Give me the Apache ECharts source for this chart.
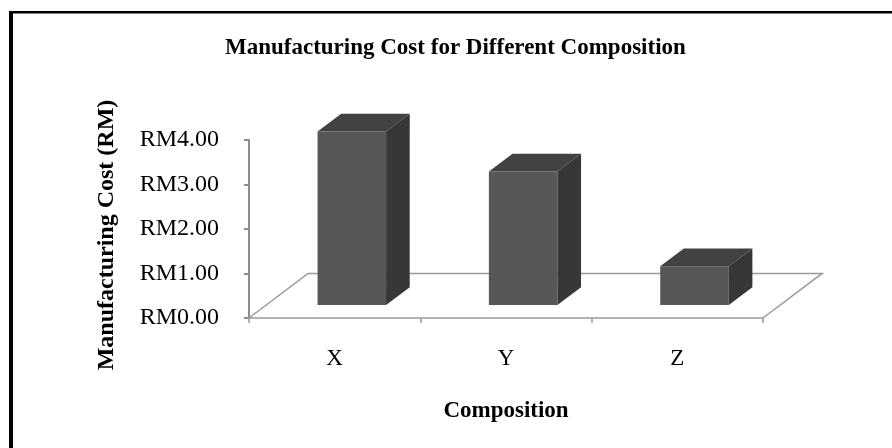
<!DOCTYPE html>
<html>
<head>
<meta charset="utf-8">
<style>
  html, body { margin: 0; padding: 0; background: #fff; }
  #chart { width: 892px; height: 448px; }
</style>
<script src="https://cdn.jsdelivr.net/npm/echarts@6/dist/echarts.min.js"></script>
</head>
<body>
<div id="chart"></div>
<script>
// chart data
var categories = ['X', 'Y', 'Z']
var costs = [3.9, 3.0, 0.87]
var yTickValues = [0, 1, 2, 3, 4]

// 3d look, as fractions of one category band
var DEPTH_X = 0.345
var DEPTH_Y = 0.26
var BAR_W = 0.4
var BAR_FRONT = 0.29
var BAR_BACK = 0.69

var serif = 'Liberation Serif, Times New Roman, serif'

var chart = echarts.init(document.getElementById('chart'))

function renderFloor(params, api) {
  var band = api.size([1, 0])[0]
  var p0 = api.coord([0, 0])
  var p1 = api.coord([categories.length - 1, 0])
  var x0 = p0[0] - band / 2
  var x1 = p1[0] + band / 2
  var y = p0[1]
  var dx = band * DEPTH_X
  var dy = band * DEPTH_Y
  return {
    type: 'polyline',
    shape: { points: [[x0, y], [x0 + dx, y - dy], [x1 + dx, y - dy], [x1, y]] },
    style: { stroke: '#9a9a9a', lineWidth: 1.5, fill: null }
  }
}

function renderBar(params, api) {
  var band = api.size([1, 0])[0]
  var base = api.coord([api.value(0), 0])
  var top = api.coord([api.value(0), api.value(1)])
  var dx = band * DEPTH_X
  var dy = band * DEPTH_Y
  var xl = base[0] - band * BAR_W / 2
  var xr = base[0] + band * BAR_W / 2
  var yb = base[1]
  var yt = top[1]
  var fx = dx * BAR_FRONT, fy = dy * BAR_FRONT
  var bx = dx * BAR_BACK, by = dy * BAR_BACK
  return {
    type: 'group',
    children: [
      {
        type: 'polygon',
        shape: { points: [[xl + fx, yt - fy], [xr + fx, yt - fy], [xr + fx, yb - fy], [xl + fx, yb - fy]] },
        style: { fill: '#575757' }
      },
      {
        type: 'polygon',
        shape: { points: [[xl + fx, yt - fy], [xr + fx, yt - fy], [xr + bx, yt - by], [xl + bx, yt - by]] },
        style: { fill: '#424242' }
      },
      {
        type: 'polygon',
        shape: { points: [[xr + fx, yt - fy], [xr + bx, yt - by], [xr + bx, yb - by], [xr + fx, yb - fy]] },
        style: { fill: '#373737' }
      }
    ]
  }
}

chart.setOption({
  animation: false,
  backgroundColor: '#fff',
  title: {
    text: 'Manufacturing Cost for Different Composition',
    left: 220,
    top: 32,
    textStyle: { fontFamily: serif, fontSize: 23, fontWeight: 'bold', color: '#000' }
  },
  graphic: [
    { type: 'rect', shape: { x: 9, y: 11, width: 883, height: 2.5 }, style: { fill: '#000' } },
    { type: 'rect', shape: { x: 9, y: 11, width: 4, height: 437 }, style: { fill: '#000' } }
  ],
  grid: { left: 249, right: 129, top: 140, bottom: 130 },
  xAxis: {
    type: 'category',
    data: categories,
    name: 'Composition',
    nameLocation: 'middle',
    nameGap: 82,
    nameTextStyle: { fontFamily: serif, fontSize: 23, fontWeight: 'bold', color: '#000' },
    axisLine: { lineStyle: { color: '#9a9a9a', width: 1.5 } },
    axisTick: { show: true, length: 5, lineStyle: { color: '#9a9a9a', width: 1.5 } },
    axisLabel: { margin: 29, fontFamily: serif, fontSize: 23, color: '#000' },
    splitLine: { show: false }
  },
  yAxis: {
    type: 'value',
    min: yTickValues[0],
    max: yTickValues[yTickValues.length - 1],
    interval: 1,
    name: 'Manufacturing Cost (RM)',
    nameLocation: 'middle',
    nameGap: 130,
    nameTextStyle: { fontFamily: serif, fontSize: 24, fontWeight: 'bold', color: '#000', padding: [0, 12, 0, 0] },
    axisLine: { show: true, lineStyle: { color: '#8c8c8c', width: 2 } },
    axisTick: { show: true, length: 5, lineStyle: { color: '#8c8c8c', width: 2 } },
    axisLabel: {
      margin: 30,
      fontFamily: serif,
      fontSize: 24,
      color: '#000',
      formatter: function (v) { return 'RM' + v.toFixed(2) }
    },
    splitLine: { show: false }
  },
  series: [
    {
      type: 'custom',
      name: 'floor',
      z: 1,
      renderItem: renderFloor,
      data: [[0, 0]],
      silent: true
    },
    {
      type: 'custom',
      name: 'Manufacturing Cost',
      z: 2,
      renderItem: renderBar,
      encode: { x: 0, y: 1 },
      data: costs.map(function (v, i) { return [i, v] })
    }
  ]
})
</script>
</body>
</html>
